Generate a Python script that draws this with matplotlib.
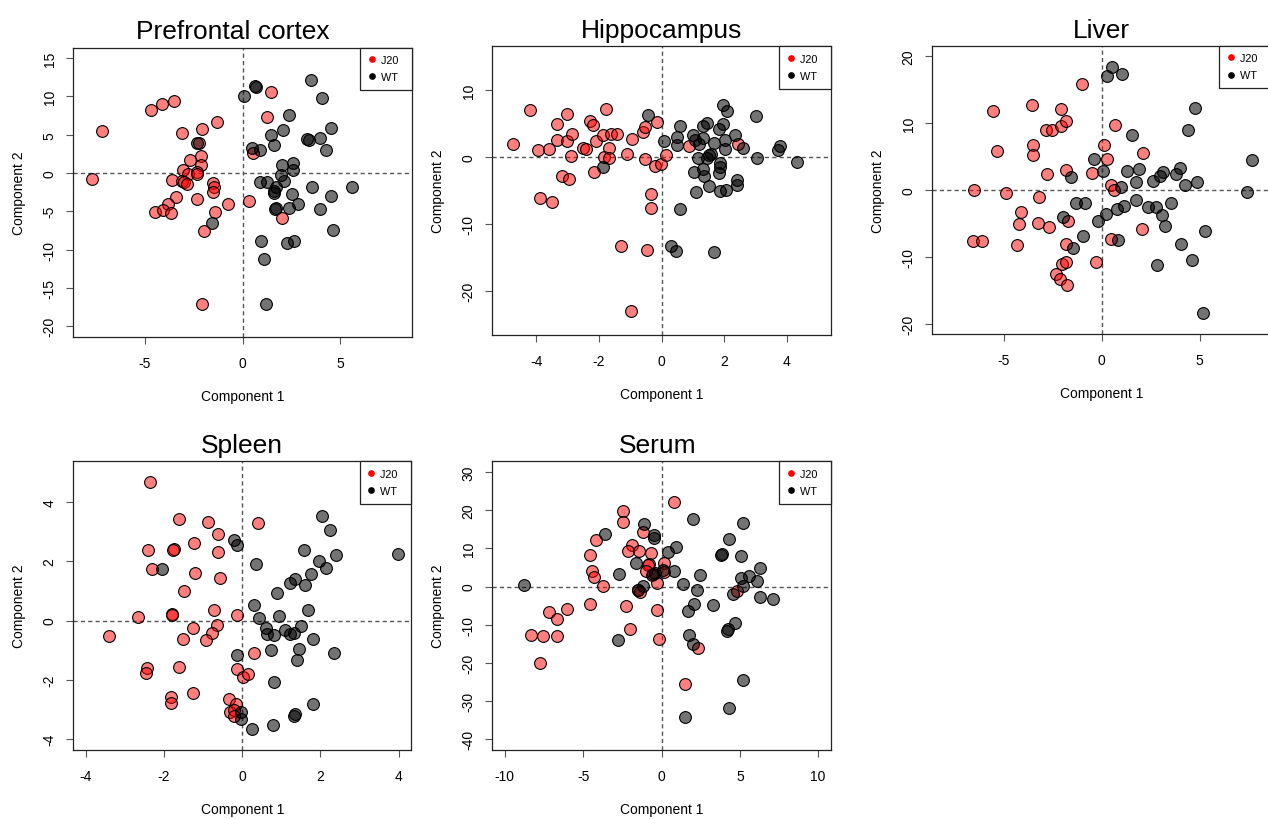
import matplotlib.pyplot as plt
from matplotlib.lines import Line2D

plt.rcParams['font.family'] = ['Liberation Sans', 'DejaVu Sans']

# ---- Prefrontal cortex ----
pfc_j20_x = [-7.18, -7.70, -4.68, -4.10, -3.50, -3.10, -2.09, -1.31, -2.24, -2.69, -2.11, -2.11, -3.03,
             -2.79, -2.33, -2.35, -3.62, -3.10, -3.01, -2.82, -1.53, -1.45, -1.53, -3.40, -3.83, -4.47,
             -4.08, -3.66, -2.33, -1.41, -0.75, -1.96, -2.09, 0.31, 0.51, 1.24, 1.46, 2.01]
pfc_j20_y = [5.54, -0.79, 8.25, 9.08, 9.38, 5.24, 5.76, 6.72, 3.88, 1.66, 2.27, 1.09, 0.44,
             -0.09, 0.09, -0.17, -0.92, -1.05, -1.22, -1.44, -1.31, -1.79, -2.53, -3.19, -4.10, -5.06,
             -4.85, -5.28, -3.36, -5.06, -4.10, -7.64, -17.15, -3.67, 2.58, 7.29, 10.65, -5.89]
pfc_wt_x = [0.09, 0.65, 0.70, 3.50, 4.08, 2.38, 2.06, 1.45, 1.63, 0.49, 0.90, 3.28, 3.37, 3.93, 4.49,
            4.25, 2.01, 2.59, 2.60, 1.96, 2.13, 0.90, 1.24, 1.72, 1.60, 1.60, 3.57, 5.61, 2.52, 4.51,
            2.82, 2.36, 1.65, 1.72, 3.96, 4.64, -1.58, -2.30, 0.92, 2.28, 2.65, 1.12, 1.19]
pfc_wt_y = [10.08, 11.31, 11.26, 12.13, 9.78, 7.59, 5.59, 4.98, 3.67, 3.23, 2.97, 4.45, 4.32, 4.63, 5.85,
            3.06, 1.09, 1.27, 0.44, -0.26, -1.05, -1.13, -1.18, -1.79, -2.36, -2.58, -1.79, -1.79, -2.75, -2.97,
            -4.02, -4.63, -4.71, -4.54, -4.76, -7.51, -6.50, 3.88, -8.82, -9.12, -8.90, -11.26, -17.07]

# ---- Hippocampus ----
hip_j20_x = [-4.73, -4.19, -3.94, -3.89, -3.59, -3.48, -3.34, -3.35, -3.01, -3.02, -2.85, -2.88, -3.16,
             -2.95, -2.50, -2.40, -2.27, -2.20, -2.09, -2.17, -1.88, -1.85, -1.76, -1.68, -1.66, -1.60,
             -1.43, -1.09, -0.94, -0.59, -0.52, -0.53, -0.20, -0.14, -0.02, 0.14, -0.34, -0.35, -1.30,
             -0.45, -0.98, 0.88, 2.43]
hip_j20_y = [1.94, 7.06, 1.14, -6.07, 1.29, -6.67, 4.98, 2.59, 6.47, 2.44, 3.43, 0.25, -2.79,
             -3.28, 1.39, 1.24, 5.47, 4.78, 2.49, -2.24, 3.33, 0.10, 7.21, 1.34, -0.10, 3.48,
             3.43, 0.45, 2.74, 3.73, 4.53, -0.30, -1.24, 5.22, -1.00, 0.30, -5.57, -7.61, -13.23,
             -13.88, -23.03, 1.74, 1.99]
hip_wt_x = [-0.42, -1.86, 0.09, 0.48, 0.59, 0.51, 0.99, 1.08, 1.20, 1.34, 1.34, 1.44, 1.17, 1.44, 1.52,
            1.58, 1.68, 1.84, 1.97, 1.95, 2.10, 2.02, 2.02, 2.35, 2.61, 3.02, 3.04, 3.73, 3.78, 4.31,
            1.03, 1.35, 1.34, 1.52, 1.09, 1.86, 1.86, 1.84, 1.87, 2.06, 2.40, 2.40, 0.58, 0.30, 0.45, 1.69]
hip_wt_y = [6.37, -1.39, 2.44, 3.03, 4.73, 1.84, 3.38, 2.64, 1.94, 2.84, 4.73, 5.07, -0.15, -0.15, 0.30,
            0.55, 2.14, 4.18, 5.02, 7.86, 6.97, 2.64, 1.24, 3.28, 1.34, 6.12, -0.15, 1.04, 1.64, -0.65,
            -2.19, -2.79, -1.79, -4.23, -5.27, -0.90, -1.44, -2.34, -5.12, -4.93, -3.38, -4.08, -7.76,
            -13.28, -13.98, -14.13]

# ---- Liver ----
liv_j20_x = [-6.52, -6.54, -6.10, -5.52, -5.35, -4.89, -4.11, -4.22, -4.31, -3.56, -3.49, -3.49, -3.20,
             -3.24, -2.81, -2.83, -2.52, -2.71, -2.06, -2.06, -1.82, -1.81, -1.74, -1.84, -2.03, -1.82,
             -2.32, -2.10, -1.77, -1.01, -0.48, -0.29, 0.14, 0.27, 0.66, 0.46, 0.61, 0.46, 2.10, 2.04]
liv_j20_y = [0.0, -7.67, -7.62, 11.76, 5.83, -0.45, -3.24, -5.08, -8.17, 12.75, 6.67, 5.23, -1.00,
             -4.88, 2.39, 8.92, 9.02, -5.58, 12.10, 9.51, 10.26, 2.94, -4.63, -8.02, -11.11, -10.81,
             -12.55, -13.30, -14.15, 15.84, 2.54, -10.81, 6.72, 4.58, 9.76, 0.80, 0.0, -7.37, 5.53, -5.88]
liv_wt_x = [0.55, 0.27, 1.06, 4.75, 4.40, 1.57, -0.39, 0.05, 1.28, 1.91, 1.74, 2.61, 2.98, 3.13, 3.80,
            4.02, 4.26, 4.89, 0.97, 7.68, 7.44, -1.57, -1.33, -0.87, -1.99, -0.19, 0.20, 0.78, 1.12, 1.77,
            2.37, 2.78, 3.54, 3.07, 3.25, 5.26, -0.95, -1.48, 0.83, 4.05, 4.62, 2.83, 5.16]
liv_wt_y = [18.38, 16.99, 17.33, 12.30, 8.92, 8.22, 4.58, 2.84, 2.79, 3.14, 1.25, 1.39, 2.09, 2.69, 2.34,
            3.24, 0.75, 1.25, 0.45, 4.53, -0.25, 1.99, -1.89, -1.89, -4.08, -4.68, -3.54, -2.89, -2.34, -1.44,
            -2.49, -2.49, -1.94, -3.74, -5.38, -6.13, -6.92, -8.62, -7.52, -8.02, -10.46, -11.16, -18.38]

# ---- Spleen ----
spl_j20_x = [-2.35, -2.40, -2.30, -2.66, -3.40, -2.43, -2.46, -1.63, -1.74, -1.77, -1.24, -1.22, -1.48,
             -1.80, -1.80, -1.27, -1.51, -1.63, -1.82, -1.81, -1.27, -0.88, -0.63, -0.61, -0.56, -0.71,
             -0.64, -0.77, -0.93, -0.14, 0.41, 0.31, -0.13, 0.02, 0.14, -0.35, -0.17, -0.31, -0.22, -0.21]
spl_j20_y = [4.66, 2.38, 1.72, 0.12, -0.52, -1.60, -1.76, 3.43, 2.42, 2.38, 2.62, 1.60, 1.00,
             0.22, 0.20, -0.26, -0.62, -1.57, -2.58, -2.79, -2.44, 3.31, 2.90, 2.30, 1.44, 0.35,
             -0.15, -0.42, -0.66, 0.20, 3.28, -1.10, -1.63, -1.91, -1.81, -2.64, -2.82, -3.09, -3.03, -3.22]
spl_wt_x = [-2.05, -0.22, -0.14, 0.36, 0.29, 0.43, 0.61, 0.64, 0.81, 0.89, 0.95, 0.74, 1.10, 1.23, 1.32,
            1.51, 1.23, 1.34, 1.60, 1.69, 1.75, 1.80, 1.45, 1.40, 1.59, 1.96, 2.14, 2.40, 2.04, 2.24,
            3.99, 2.34, -0.14, 0.81, 1.81, 0.78, 1.32, 1.35, -0.04, -0.02, 0.25]
spl_wt_y = [1.73, 2.70, 2.54, 1.90, 0.51, 0.07, -0.24, -0.46, -0.48, 0.93, 0.15, -0.98, -0.33, -0.44, -0.43,
            -0.18, 1.26, 1.41, 1.18, 0.37, 1.56, -0.62, -0.95, -1.32, 2.38, 2.02, 1.78, 2.22, 3.52, 3.05,
            2.23, -1.08, -1.16, -2.07, -2.81, -3.51, -3.22, -3.15, -3.07, -3.33, -3.66]

# ---- Serum ----
ser_j20_x = [0.81, -2.43, -2.43, -1.17, -4.15, -4.54, -4.41, -4.34, -3.71, -4.58, -1.87, -2.13, -1.45,
             -0.66, -0.79, -0.83, -0.96, -0.60, 0.19, 0.17, -0.30, -1.47, -1.38, -2.24, -0.26, -2.04,
             -0.19, -7.18, -6.05, -6.69, -8.33, -7.56, -6.69, -7.75, 2.36, 1.49, 4.83]
ser_j20_y = [22.08, 19.72, 16.93, 14.31, 12.22, 8.29, 4.10, 2.62, 0.26, -4.62, 10.91, 9.34, 9.42,
             8.81, 6.02, 5.58, 4.01, 3.14, 6.20, 3.75, 0.96, -0.96, -1.48, -5.15, -6.11, -10.99,
             -13.70, -6.63, -5.76, -8.55, -12.57, -13.00, -13.00, -20.07, -15.97, -25.57, -1.22]
ser_wt_x = [-8.78, -3.58, -2.70, -2.79, -1.62, -1.11, -0.51, -0.45, -1.19, -1.47, -0.53, -0.43, 0.11, 0.43,
            0.94, 0.79, 1.38, 2.02, 2.24, 2.43, 2.07, 1.68, 3.26, 1.75, 1.98, 1.53, 3.83, 3.81, 4.28, 5.18,
            5.07, 5.05, 5.56, 5.22, 6.28, 6.07, 6.28, 7.11, 4.54, 4.66, 4.26, 4.17, 4.28, 5.22]
ser_wt_y = [0.44, 13.87, 3.40, -13.96, 6.11, 16.32, 13.44, 12.65, 0.09, -0.79, 3.40, 3.58, 4.28, 9.16,
            10.38, 4.01, 0.79, 17.80, -0.96, 3.14, -4.54, -6.37, -4.71, -12.57, -14.92, -34.21, 8.46, 8.20,
            12.57, 16.75, 8.03, 2.18, 2.79, 0.26, 4.97, 1.57, -2.79, -3.23, -1.92, -9.51, -11.17, -11.61,
            -31.68, -24.52]

W, H = 1268, 820
fig = plt.figure(figsize=(W / 100, H / 100), dpi=100)


def r_lim(lo, hi):
    # R style 4% extension of the range
    d = 0.04 * (hi - lo)
    return lo - d, hi + d


def panel(px, title, j20x, j20y, wtx, wty, xl, yl, xt, yt, title_x=0.5):
    left, top, right, bottom = px
    ax = fig.add_axes([left / W, 1 - bottom / H, (right - left) / W, (bottom - top) / H])
    ax.axhline(0, color='#555555', lw=1, ls=(0, (3, 2.3)), zorder=1)
    ax.axvline(0, color='#555555', lw=1, ls=(0, (3, 2.3)), zorder=1)
    ax.scatter(j20x, j20y, s=72, facecolor=(1, 0, 0, 0.5), edgecolor='black', linewidth=0.8, zorder=3)
    ax.scatter(wtx, wty, s=72, facecolor=(0, 0, 0, 0.55), edgecolor='black', linewidth=0.8, zorder=3)
    ax.set_xlim(*r_lim(*xl))
    ax.set_ylim(*r_lim(*yl))
    ax.set_xticks(xt)
    ax.set_yticks(yt)
    ax.set_xticklabels([str(v) for v in xt])
    ax.set_yticklabels([str(v) for v in yt], rotation=90, va='center')
    ax.tick_params(direction='out', length=5, width=0.8, color='#555555', labelsize=10)
    ax.tick_params(axis='x', pad=8.5)
    ax.tick_params(axis='y', pad=7)
    for sp in ax.spines.values():
        sp.set_linewidth(0.9)
        sp.set_color('#222222')
    ax.set_xlabel('Component 1', fontsize=10, labelpad=14)
    ax.set_ylabel('Component 2', fontsize=10, labelpad=12)
    ax.set_title(title, fontsize=19, pad=6.5, x=title_x)
    handles = [Line2D([], [], marker='o', ls='none', color='red', markersize=3.8),
               Line2D([], [], marker='o', ls='none', color='black', markersize=3.8)]
    leg = ax.legend(handles, ['J20  ', 'WT  '], loc='upper right', borderaxespad=0, fancybox=False,
                    framealpha=1, edgecolor='#222222', fontsize=7.8, handlelength=0.7,
                    handletextpad=0.5, borderpad=0.7, labelspacing=0.65)
    leg.get_frame().set_linewidth(0.9)
    return ax


panel((73.3, 48.5, 411.8, 337.8), 'Prefrontal cortex', pfc_j20_x, pfc_j20_y, pfc_wt_x, pfc_wt_y,
      (-8, 8), (-20, 15), [-5, 0, 5], list(range(-20, 16, 5)), title_x=0.47)
panel((492.3, 47.3, 830.7, 336.0), 'Hippocampus', hip_j20_x, hip_j20_y, hip_wt_x, hip_wt_y,
      (-5, 5), (-25, 15), [-4, -2, 0, 2, 4], [-20, -10, 0, 10])
panel((932.3, 46.7, 1271.0, 335.3), 'Liver', liv_j20_x, liv_j20_y, liv_wt_x, liv_wt_y,
      (-8, 8), (-20, 20), [-5, 0, 5], [-20, -10, 0, 10, 20])
panel((73.3, 462.3, 411.2, 751.0), 'Spleen', spl_j20_x, spl_j20_y, spl_wt_x, spl_wt_y,
      (-4, 4), (-4, 5), [-4, -2, 0, 2, 4], [-4, -2, 0, 2, 4])
panel((492.3, 462.3, 830.7, 751.0), 'Serum', ser_j20_x, ser_j20_y, ser_wt_x, ser_wt_y,
      (-10, 10), (-40, 30), [-10, -5, 0, 5, 10], list(range(-40, 31, 10)), title_x=0.49)

fig.savefig('out.png', dpi=100)
